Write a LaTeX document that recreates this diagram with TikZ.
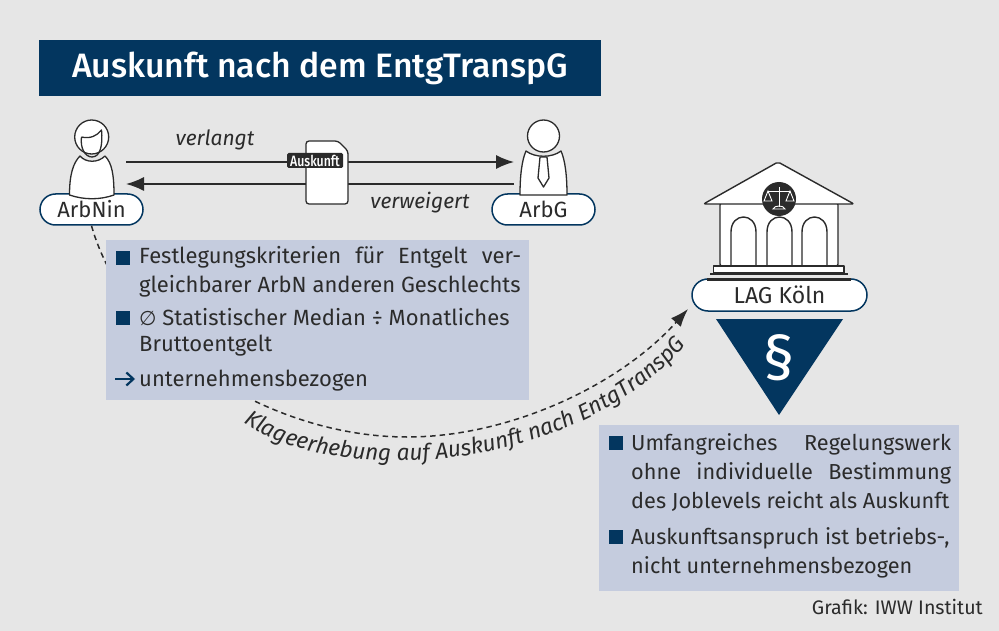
\documentclass[tikz,border=0pt]{standalone}
\usepackage{fontspec}
\setmainfont{Fira Sans}[BoldFont={* Medium}]
\newfontfamily\symfont{DejaVu Sans}
\usetikzlibrary{arrows.meta,shapes.misc,decorations.text}
\definecolor{navy}{HTML}{03365F}
\definecolor{bgg}{HTML}{E6E6E6}
\definecolor{boxb}{HTML}{C5CCDE}
\definecolor{ink}{HTML}{2B2B2B}
\tikzset{
  x=1pt,y=-1pt,
  pill/.style={draw=navy,line width=1.5pt,fill=white,rounded rectangle,inner sep=0pt,text=ink,font=\fontsize{22}{24}\selectfont},
  panel/.style={fill=boxb,anchor=north west,inner sep=0pt},
  txt/.style={anchor=base west,inner sep=0pt,text=ink,align=justify,font=\fontsize{22}{29}\selectfont},
  bul/.style={fill=navy,minimum size=14pt,inner sep=0pt,anchor=north west},
  lbl/.style={inner sep=0pt,text=ink,font=\fontsize{21}{24}\selectfont\itshape},
  flow/.style={draw=ink,line width=1.5pt,-{Latex[length=18pt,width=14pt]}},
  ico/.style={draw=ink,line width=1.3pt,fill=white,line join=round},
  court/.style={draw=ink,line width=1.4pt,fill=white,line join=round}
}
\begin{document}
\begin{tikzpicture}
\useasboundingbox (0,0) rectangle (999,631);
\fill[bgg] (0,0) rectangle (999,631);
% title
\node[fill=navy,text=white,anchor=north west,minimum width=562pt,minimum height=56pt,inner sep=0pt,font=\fontsize{33.8}{36}\selectfont\bfseries] (title) at (39,40) {Auskunft nach dem EntgTranspG};
% persons
\node[pill,minimum width=103pt,minimum height=31pt] (arbnin) at (91.5,209.5) {ArbNin};
\node[pill,minimum width=103pt,minimum height=31pt] (arbg) at (543.5,209.5) {ArbG};
\draw[ico] (69.5,195) .. controls (69.5,175) and (73,163) .. (80,156) .. controls (86,163) and (98,163) .. (105,156) .. controls (112,163) and (114,175) .. (114,195) .. controls (100,200) and (84,200) .. (69.5,195) -- cycle;
\draw[ico] (91.7,137) circle[radius=17];
\draw[ico,fill=none] (81.5,137) .. controls (80,148) and (85,157) .. (92,157) .. controls (100,157) and (103,146) .. (101.5,130) .. controls (97,136) and (90,139) .. (81.5,137);
\draw[ico] (520,195) .. controls (520,175) and (522,160) .. (526,151) .. controls (535,158) and (552,158) .. (561,151) .. controls (565,160) and (567,175) .. (567,195) -- cycle;
\draw[ico] (543.5,136) circle[radius=16];
\draw[ico] (540,157) -- (547,157) -- (549,178) -- (543.5,187) -- (538,178) -- cycle;
% flows
\coordinate (aR) at (126,162);
\coordinate (aT) at (514,162);
\coordinate (bR) at (514,184);
\coordinate (bL) at (126,184);
\draw[flow] (aR) -- (aT);
\draw[flow] (bR) -- (bL);
\node[lbl] (verlangt) at (215,140) {verlangt};
\node[lbl] (verweigert) at (420,203) {verweigert};
% document
\draw[ico,rounded corners=3pt] (306,141) -- (338,141) -- (348,151) -- (348,204) -- (306,204) -- cycle;
\node[fill=ink,text=white,rounded corners=1.5pt,inner sep=0pt,minimum width=56pt,minimum height=15pt,font=\fontsize{15}{15}\selectfont\bfseries] (ausk) at (315,160.5) {\addfontfeature{FakeStretch=.82}Auskunft};
% court
\draw[court,rounded corners=2pt] (720,203) rectangle (838,266);
\foreach \xa/\xb in {731/756,767/792,802/827}
  \draw[court] (\xa,266) -- (\xa,232) .. controls (\xa,212) and (\xb,212) .. (\xb,232) -- (\xb,266);
\draw[court] (713.5,266) rectangle (844,273);
\fill[ink] (710,273) rectangle (848,275.5);
\draw[court,rounded corners=2pt] (703.5,204) -- (778,162) -- (854,204) -- cycle;
\node[fill=ink,circle,minimum size=34pt,inner sep=0pt] (emblem) at (779,199) {};
\begin{scope}[draw=white,line width=.9pt,fill=none]
\draw (779,187) -- (779,207) (768,191) -- (790,191);
\draw (768,191) -- (764,201) -- (772,201) -- cycle;
\draw (790,191) -- (786,201) -- (794,201) -- cycle;
\draw (773,209) .. controls (774,205) and (784,205) .. (785,209) -- cycle;
\end{scope}
\node[pill,minimum width=175pt,minimum height=32pt,font=\fontsize{23}{24}\selectfont] (lag) at (779.5,295) {LAG Köln};
\fill[ink] (707,278) rectangle (851,281);
\fill[navy] (716,319) -- (843,319) -- (779,415) -- cycle;
\node[text=white,inner sep=0pt,font=\fontsize{62}{66}\selectfont] (para) at (779,358) {§};
% dashed connector
\coordinate (lagtip) at (688,309);
\draw[ink,line width=1.5pt,dash pattern=on 5.5pt off 4pt,-{Latex[length=18pt,width=13pt]}]
  (arbnin.south) .. controls (125,345) and (270,437) .. (407,437) .. controls (510,437) and (620,385) .. (lagtip);
\path[decorate,decoration={text along path,text align=center,text={|\fontsize{22.6}{24}\selectfont\itshape\color{ink}|Klageerhebung auf Auskunft nach EntgTranspG}}]
  (238,419) .. controls (330,490) and (580,475) .. (690,340);
% panel 1
\node[panel,minimum width=423pt,minimum height=160pt] (p1) at (106,240) {};
\node[bul] (b1) at (116,251) {};
\node[bul] (b2) at (116,311) {};
\draw[navy,line width=2.2pt,-{Straight Barb[length=7pt,width=13pt]}] (115,379) -- (135,379);
\node[txt,text width=382pt] (t1) at (139,264) {Festlegungskriterien für Entgelt ver-\linebreak gleichbarer ArbN anderen Geschlechts};
\node[txt,text width=382pt,font=\fontsize{22}{26}\selectfont] (t2) at (139,325) {{\symfont\fontsize{20}{26}\selectfont ∅} Statistischer Median ÷ Monatliches\\ Bruttoentgelt};
\node[txt] (t3) at (139,386) {unternehmensbezogen};
% panel 2
\node[panel,minimum width=360pt,minimum height=166pt] (p2) at (599,425) {};
\node[bul] (b3) at (609,436) {};
\node[bul] (b4) at (609,530) {};
\node[txt,text width=320pt,font=\fontsize{21.7}{29}\selectfont] (t4) at (631,450) {Umfangreiches Regelungswerk\linebreak ohne individuelle Bestimmung\linebreak des Joblevels reicht als Auskunft};
\node[txt,text width=320pt,font=\fontsize{21.7}{29}\selectfont] (t5) at (631,544) {Auskunftsanspruch ist betriebs-,\\ nicht unternehmensbezogen};
\node[anchor=base east,inner sep=0pt,text=ink,font=\fontsize{19.6}{20}\selectfont] (credit) at (983,614) {Grafik: IWW Institut};
\end{tikzpicture}
\end{document}
